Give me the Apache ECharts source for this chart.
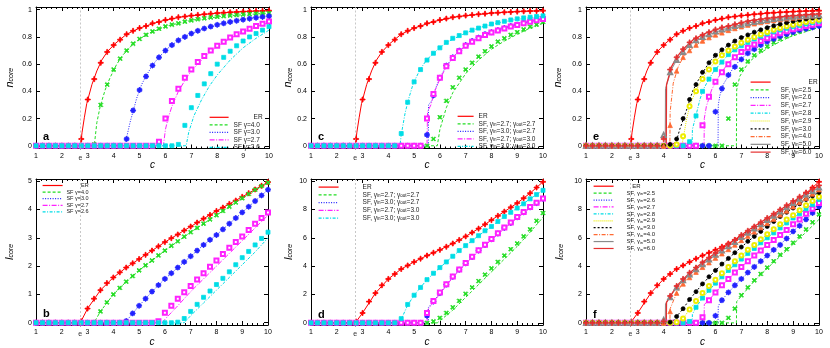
<!DOCTYPE html>
<html>
<head>
<meta charset="utf-8">
<script src="https://cdn.jsdelivr.net/npm/echarts@6/dist/echarts.min.js"></script>
<style>
html, body { margin: 0; padding: 0; background: #fff; }
#chart { width: 830px; height: 348px; }
</style>
</head>
<body>
<div id="chart"></div>
<script>
const FONT = 'Liberation Sans, Arial, sans-serif'
const cE = 2.718

// tick labels
const cTicks = [1, 2, 3, 4, 5, 6, 7, 8, 9, 10]
const nTicks = [0, 0.2, 0.4, 0.6, 0.8, 1]
const lTicksB = [0, 1, 2, 3, 4, 5]
const lTicksD = [0, 2, 4, 6, 8, 10]

// c values of the simulation points
const cSim = [1, 1.25, 1.5, 1.75, 2, 2.25, 2.5, 2.75, 3, 3.25, 3.5, 3.75, 4, 4.25, 4.5, 4.75, 5, 5.25, 5.5, 5.75,
  6, 6.25, 6.5, 6.75, 7, 7.25, 7.5, 7.75, 8, 8.25, 8.5, 8.75, 9, 9.25, 9.5, 9.75, 10]

// ---- ER (n_core: a, c, e) ----
const erLineN = [[1, 0], [2.72, 0], [2.78, 0.1], [2.87, 0.21], [2.96, 0.31], [3.16, 0.45], [3.35, 0.55], [3.54, 0.63], [3.75, 0.69],
  [4.05, 0.75], [4.5, 0.82], [5, 0.865], [5.8, 0.915], [6.7, 0.95], [8, 0.975], [9, 0.987], [10, 0.993]]
const erSimN = [0, 0, 0, 0, 0, 0, 0, 0.05, 0.34, 0.49, 0.61, 0.69, 0.74, 0.78, 0.82, 0.845, 0.865, 0.88, 0.9, 0.91, 0.925, 0.935,
  0.945, 0.95, 0.957, 0.962, 0.967, 0.971, 0.975, 0.978, 0.981, 0.983, 0.986, 0.988, 0.99, 0.991, 0.993]

// ---- panel a ----
const aLine40 = [[1, 0], [3.25, 0], [3.35, 0.17], [3.48, 0.29], [3.67, 0.41], [3.86, 0.5], [4.12, 0.6], [4.37, 0.67], [4.76, 0.75],
  [5.27, 0.82], [6.04, 0.88], [7.07, 0.925], [8.36, 0.955], [10, 0.975]]
const aSim40 = [0, 0, 0, 0, 0, 0, 0, 0, 0, 0.01, 0.30, 0.45, 0.56, 0.64, 0.7, 0.75, 0.785, 0.815, 0.84, 0.86, 0.877, 0.89, 0.9,
  0.912, 0.922, 0.93, 0.937, 0.943, 0.948, 0.953, 0.957, 0.961, 0.965, 0.968, 0.971, 0.973, 0.975]
const aLine30 = [[1, 0], [4.4, 0], [4.5, 0.06], [4.63, 0.17], [4.76, 0.26], [4.89, 0.35], [5.08, 0.45], [5.27, 0.52], [5.53, 0.6],
  [5.79, 0.66], [6.17, 0.73], [6.69, 0.8], [7.33, 0.85], [8.1, 0.895], [9, 0.93], [10, 0.955]]
const aSim30 = [0, 0, 0, 0, 0, 0, 0, 0, 0, 0, 0, 0, 0, 0, 0.05, 0.26, 0.41, 0.51, 0.59, 0.65, 0.70, 0.74, 0.775, 0.80, 0.825,
  0.845, 0.862, 0.876, 0.889, 0.9, 0.91, 0.919, 0.927, 0.934, 0.941, 0.947, 0.953]
const aLine27 = [[1, 0], [5.92, 0], [6.0, 0.12], [6.1, 0.2], [6.25, 0.29], [6.5, 0.4], [6.75, 0.48], [7, 0.55], [7.5, 0.65],
  [8, 0.73], [8.5, 0.79], [9, 0.835], [9.5, 0.875], [10, 0.905]]
const aSim27 = [0, 0, 0, 0, 0, 0, 0, 0, 0, 0, 0, 0, 0, 0, 0, 0, 0, 0, 0, 0.03, 0.2, 0.33, 0.42, 0.5, 0.56, 0.615, 0.66, 0.7,
  0.735, 0.765, 0.795, 0.82, 0.84, 0.86, 0.88, 0.897, 0.913]
const aLine26 = [[1, 0], [6.8, 0], [6.9, 0.1], [7.1, 0.22], [7.4, 0.34], [7.7, 0.44], [8, 0.52], [8.5, 0.63], [9, 0.72],
  [9.5, 0.79], [10, 0.85]]
const aSim26 = [0, 0, 0, 0, 0, 0, 0, 0, 0, 0, 0, 0, 0, 0, 0, 0, 0, 0, 0, 0, 0, 0, 0.01, 0.15, 0.28, 0.37, 0.455, 0.53, 0.6,
  0.65, 0.695, 0.735, 0.77, 0.8, 0.825, 0.85, 0.875]

// ---- panel b ----
const bLineER = [[1, 0], [2.72, 0], [3, 0.5], [3.5, 1.15], [4, 1.6], [4.5, 1.95], [5, 2.25], [6, 2.85], [7, 3.4], [8, 3.95],
  [9, 4.45], [10, 4.97]]
const bSimER = [0, 0, 0, 0, 0, 0, 0, 0.05, 0.5, 0.85, 1.15, 1.4, 1.6, 1.78, 1.95, 2.1, 2.25, 2.4, 2.55, 2.7, 2.85, 2.99,
  3.12, 3.26, 3.4, 3.54, 3.68, 3.81, 3.95, 4.07, 4.2, 4.32, 4.45, 4.58, 4.71, 4.84, 4.97]
const bLine40 = [[1, 0], [3.25, 0], [3.5, 0.4], [4, 1.0], [4.5, 1.45], [5, 1.85], [6, 2.55], [7, 3.2], [8, 3.8], [9, 4.4], [10, 4.95]]
const bSim40 = [0, 0, 0, 0, 0, 0, 0, 0, 0, 0.02, 0.4, 0.72, 1.0, 1.23, 1.45, 1.65, 1.85, 2.03, 2.2, 2.38, 2.55, 2.72, 2.88,
  3.04, 3.2, 3.35, 3.5, 3.65, 3.8, 3.95, 4.1, 4.25, 4.4, 4.55, 4.7, 4.83, 4.95]
const bLine30 = [[1, 0], [4.45, 0], [5, 0.6], [5.5, 1.1], [6, 1.55], [6.5, 1.95], [7, 2.35], [7.5, 2.75], [8, 3.1], [8.5, 3.5],
  [9, 3.9], [9.5, 4.3], [10, 4.7]]
const bSim30 = [0, 0, 0, 0, 0, 0, 0, 0, 0, 0, 0, 0, 0, 0, 0.06, 0.33, 0.6, 0.85, 1.1, 1.33, 1.55, 1.75, 1.95, 2.15, 2.35,
  2.55, 2.75, 2.93, 3.1, 3.3, 3.5, 3.7, 3.9, 4.1, 4.3, 4.5, 4.7]
const bLine27 = [[1, 0], [5.9, 0], [6, 0.12], [6.5, 0.6], [7, 1.1], [7.5, 1.55], [8, 2.0], [8.5, 2.45], [9, 2.9], [9.5, 3.35], [10, 3.8]]
const bSim27 = [0, 0, 0, 0, 0, 0, 0, 0, 0, 0, 0, 0, 0, 0, 0, 0, 0, 0, 0, 0.05, 0.35, 0.6, 0.85, 1.08, 1.3, 1.53, 1.75, 1.98,
  2.2, 2.43, 2.65, 2.85, 3.05, 3.28, 3.5, 3.7, 3.9]
const bLine26 = [[1, 0], [6.75, 0], [7, 0.25], [7.5, 0.7], [8, 1.15], [8.5, 1.6], [9, 2.05], [9.5, 2.5], [10, 3.0]]
const bSim26 = [0, 0, 0, 0, 0, 0, 0, 0, 0, 0, 0, 0, 0, 0, 0, 0, 0, 0, 0, 0, 0, 0, 0.02, 0.15, 0.4, 0.65, 0.9, 1.12, 1.35,
  1.57, 1.8, 2.05, 2.3, 2.52, 2.75, 2.98, 3.2]

// ---- panel c ----
const cLine2727 = [[1, 0], [5.9, 0], [6.0, 0.12], [6.25, 0.28], [6.5, 0.39], [7, 0.53], [7.5, 0.63], [8, 0.71], [8.5, 0.77],
  [9, 0.82], [9.5, 0.865], [10, 0.9]]
const cSim2727 = [0, 0, 0, 0, 0, 0, 0, 0, 0, 0, 0, 0, 0, 0, 0, 0, 0, 0, 0, 0.05, 0.21, 0.33, 0.43, 0.5, 0.56, 0.61, 0.655,
  0.695, 0.73, 0.765, 0.79, 0.815, 0.835, 0.855, 0.875, 0.89, 0.91]
const cLine3027 = [[1, 0], [5.55, 0], [5.56, 0.3], [5.68, 0.33], [5.81, 0.41], [6, 0.5], [6.26, 0.59], [6.64, 0.68], [7.03, 0.74],
  [7.55, 0.8], [8.19, 0.85], [8.84, 0.885], [9.48, 0.915], [10, 0.935]]
const cSim3027 = [0, 0, 0, 0, 0, 0, 0, 0, 0, 0, 0, 0, 0, 0, 0, 0, 0, 0, 0.08, 0.37, 0.5, 0.59, 0.65, 0.7, 0.74, 0.77, 0.795,
  0.82, 0.835, 0.85, 0.865, 0.88, 0.89, 0.905, 0.915, 0.925, 0.935]
const cLine2730 = [[1, 0], [5.5, 0], [5.52, 0.25], [5.65, 0.3], [5.8, 0.4], [6, 0.49], [6.25, 0.58], [6.6, 0.67], [7, 0.735],
  [7.5, 0.79], [8.2, 0.845], [8.8, 0.88], [9.5, 0.912], [10, 0.932]]
const cSim2730 = [0, 0, 0, 0, 0, 0, 0, 0, 0, 0, 0, 0, 0, 0, 0, 0, 0, 0, 0.2, 0.38, 0.5, 0.585, 0.645, 0.695, 0.735, 0.765,
  0.79, 0.815, 0.832, 0.848, 0.862, 0.876, 0.888, 0.9, 0.912, 0.922, 0.932]
const cLine3030 = [[1, 0], [4.45, 0], [4.5, 0.08], [4.65, 0.24], [4.78, 0.34], [4.97, 0.46], [5.23, 0.56], [5.48, 0.63],
  [5.87, 0.7], [6.26, 0.76], [6.9, 0.82], [7.55, 0.87], [8.19, 0.9], [8.84, 0.925], [10, 0.955]]
const cSim3030 = [0, 0, 0, 0, 0, 0, 0, 0, 0, 0, 0, 0, 0, 0, 0.09, 0.32, 0.47, 0.56, 0.63, 0.68, 0.72, 0.76, 0.79, 0.81, 0.83,
  0.85, 0.865, 0.88, 0.895, 0.905, 0.915, 0.925, 0.933, 0.94, 0.945, 0.95, 0.955]

// ---- ER (l_core: d, f) ----
const erLineL = [[1, 0], [2.72, 0], [3, 0.7], [3.5, 2.1], [4, 3.1], [4.5, 3.8], [5, 4.3], [5.5, 4.75], [6, 5.15], [6.5, 5.6],
  [7, 6.1], [7.5, 6.65], [8, 7.25], [8.5, 7.85], [9, 8.45], [9.5, 9.15], [10, 9.95]]
const erSimL = [0, 0, 0, 0, 0, 0, 0, 0.1, 0.7, 1.5, 2.1, 2.65, 3.1, 3.45, 3.8, 4.05, 4.3, 4.53, 4.75, 4.95, 5.15, 5.37, 5.6,
  5.85, 6.1, 6.37, 6.65, 6.95, 7.25, 7.55, 7.85, 8.15, 8.45, 8.8, 9.15, 9.55, 9.95]

// ---- panel d ----
const dLine2727 = [[1, 0], [5.9, 0], [6, 0.15], [6.5, 0.9], [7, 1.8], [7.5, 2.7], [8, 3.6], [8.5, 4.5], [9, 5.4], [9.5, 6.4], [10, 7.45]]
const dSim2727 = [0, 0, 0, 0, 0, 0, 0, 0, 0, 0, 0, 0, 0, 0, 0, 0, 0, 0, 0, 0.1, 0.35, 0.7, 1.1, 1.55, 2.05, 2.5, 2.95, 3.4,
  3.85, 4.3, 4.75, 5.2, 5.6, 6.1, 6.6, 7.2, 7.75]
const dLine3027 = [[1, 0], [5.55, 0], [5.56, 1.1], [5.75, 1.5], [6, 2.1], [6.5, 3.25], [7, 4.2], [7.5, 5.1], [8, 5.9], [8.5, 6.7],
  [9, 7.45], [9.5, 8.15], [10, 8.75]]
const dSim3027 = [0, 0, 0, 0, 0, 0, 0, 0, 0, 0, 0, 0, 0, 0, 0, 0, 0, 0, 0.5, 1.5, 2.1, 2.7, 3.25, 3.75, 4.2, 4.65, 5.1, 5.5,
  5.9, 6.3, 6.7, 7.05, 7.45, 7.8, 8.15, 8.45, 8.75]
const dLine2730 = [[1, 0], [5.5, 0], [5.52, 0.9], [5.75, 1.45], [6, 2.05], [6.5, 3.2], [7, 4.15], [7.5, 5.05], [8, 5.85],
  [8.5, 6.65], [9, 7.4], [9.5, 8.1], [10, 8.7]]
const dSim2730 = [0, 0, 0, 0, 0, 0, 0, 0, 0, 0, 0, 0, 0, 0, 0, 0, 0, 0, 0.7, 1.55, 2.15, 2.72, 3.27, 3.77, 4.22, 4.67, 5.12,
  5.52, 5.92, 6.32, 6.72, 7.08, 7.47, 7.82, 8.17, 8.48, 8.78]
const dLine3030 = [[1, 0], [4.45, 0], [4.5, 0.25], [4.75, 1.25], [5, 1.95], [5.5, 3.05], [6, 3.9], [6.5, 4.7], [7, 5.45],
  [7.5, 6.15], [8, 6.8], [8.5, 7.5], [9, 8.1], [9.5, 8.75], [10, 9.35]]
const dSim3030 = [0, 0, 0, 0, 0, 0, 0, 0, 0, 0, 0, 0, 0, 0, 0.3, 1.3, 1.95, 2.5, 3.05, 3.5, 3.9, 4.3, 4.7, 5.1, 5.45, 5.8,
  6.15, 6.5, 6.8, 7.15, 7.5, 7.8, 8.1, 8.4, 8.75, 9.05, 9.35]

// ---- panel e ----
const eLine25 = [[1, 0], [6.81, 0], [6.82, 0.41], [6.94, 0.51], [7.13, 0.57], [7.32, 0.62], [7.71, 0.68], [8.23, 0.74],
  [8.87, 0.8], [9.51, 0.84], [10, 0.87]]
const eSim25 = [0, 0, 0, 0, 0, 0, 0, 0, 0, 0, 0, 0, 0, 0, 0, 0, 0, 0, 0, 0, 0, 0, 0.2, 0.45, 0.56, 0.62, 0.665, 0.7, 0.73,
  0.76, 0.785, 0.805, 0.825, 0.842, 0.857, 0.875, 0.893]
const eLine26 = [[1, 0], [6.1, 0], [6.11, 0.3], [6.17, 0.37], [6.3, 0.45], [6.49, 0.51], [6.68, 0.57], [6.94, 0.63], [7.32, 0.69],
  [7.85, 0.75], [8.48, 0.8], [9.26, 0.85], [10, 0.88]]
const eSim26 = [0, 0, 0, 0, 0, 0, 0, 0, 0, 0, 0, 0, 0, 0, 0, 0, 0, 0, 0, 0, 0.25, 0.42, 0.52, 0.58, 0.635, 0.68, 0.71, 0.74,
  0.765, 0.785, 0.805, 0.82, 0.835, 0.85, 0.86, 0.87, 0.88]
const eLine27 = [[1, 0], [5.56, 0], [5.57, 0.2], [5.65, 0.29], [5.85, 0.41], [6.04, 0.48], [6.23, 0.54], [6.55, 0.62],
  [6.94, 0.68], [7.45, 0.74], [8.1, 0.8], [8.87, 0.85], [10, 0.9]]
const eSim27 = [0, 0, 0, 0, 0, 0, 0, 0, 0, 0, 0, 0, 0, 0, 0, 0, 0, 0, 0.15, 0.36, 0.47, 0.54, 0.6, 0.65, 0.69, 0.72, 0.745,
  0.77, 0.79, 0.81, 0.827, 0.842, 0.856, 0.868, 0.88, 0.89, 0.9]
const eLine28 = [[1, 0], [5.1, 0], [5.11, 0.12], [5.27, 0.24], [5.4, 0.34], [5.52, 0.41], [5.72, 0.48], [5.91, 0.54],
  [6.17, 0.6], [6.55, 0.68], [7.07, 0.74], [7.71, 0.8], [8.48, 0.85], [9.25, 0.885], [10, 0.915]]
const eSim28 = [0, 0, 0, 0, 0, 0, 0, 0, 0, 0, 0, 0, 0, 0, 0, 0, 0.03, 0.22, 0.4, 0.49, 0.56, 0.615, 0.67, 0.705, 0.735,
  0.76, 0.785, 0.805, 0.822, 0.838, 0.852, 0.864, 0.875, 0.885, 0.895, 0.905, 0.915]
const eLine29 = [[1, 0], [4.7, 0], [4.75, 0.05], [4.88, 0.19], [5, 0.29], [5.2, 0.385], [5.4, 0.46], [5.65, 0.54], [6.04, 0.63],
  [6.42, 0.69], [6.94, 0.75], [7.58, 0.81], [8.35, 0.86], [9.12, 0.9], [10, 0.93]]
const eSim29 = [0, 0, 0, 0, 0, 0, 0, 0, 0, 0, 0, 0, 0, 0, 0.01, 0.07, 0.29, 0.4, 0.49, 0.56, 0.62, 0.665, 0.7, 0.73, 0.757,
  0.78, 0.8, 0.82, 0.837, 0.852, 0.866, 0.878, 0.889, 0.899, 0.909, 0.918, 0.927]
const eLine30 = [[1, 0], [4.3, 0], [4.5, 0.04], [4.62, 0.12], [4.75, 0.19], [4.88, 0.26], [5.01, 0.34], [5.14, 0.41],
  [5.33, 0.48], [5.52, 0.54], [5.78, 0.62], [6.04, 0.67], [6.42, 0.73], [6.81, 0.78], [7.32, 0.82], [7.97, 0.87],
  [8.61, 0.9], [9.25, 0.92], [10, 0.945]]
const eSim30 = [0, 0, 0, 0, 0, 0, 0, 0, 0, 0, 0, 0, 0, 0.01, 0.05, 0.2, 0.34, 0.45, 0.54, 0.61, 0.665, 0.705, 0.74, 0.77,
  0.795, 0.815, 0.835, 0.852, 0.868, 0.882, 0.894, 0.905, 0.915, 0.924, 0.932, 0.939, 0.945]
const eLine40 = [[1, 0], [4.24, 0], [4.25, 0.25], [4.37, 0.46], [4.56, 0.58], [4.75, 0.65], [5, 0.7], [5.4, 0.76], [6.04, 0.82],
  [6.68, 0.86], [7.32, 0.89], [8.6, 0.93], [10, 0.96]]
const eSim40 = [0, 0, 0, 0, 0, 0, 0, 0, 0, 0, 0, 0, 0, 0.15, 0.55, 0.65, 0.7, 0.74, 0.77, 0.795, 0.815, 0.83, 0.848, 0.862,
  0.875, 0.887, 0.897, 0.906, 0.914, 0.921, 0.928, 0.934, 0.94, 0.945, 0.95, 0.955, 0.96]
const eLine50 = [[1, 0], [4.06, 0], [4.07, 0.42], [4.3, 0.56], [4.5, 0.63], [4.75, 0.69], [5.14, 0.76], [5.65, 0.81],
  [6.3, 0.855], [7.32, 0.905], [8.6, 0.94], [10, 0.96]]
const eSim50 = [0, 0, 0, 0, 0, 0, 0, 0, 0, 0, 0, 0, 0.08, 0.54, 0.63, 0.69, 0.74, 0.775, 0.8, 0.82, 0.84, 0.855, 0.868, 0.88,
  0.89, 0.9, 0.91, 0.918, 0.925, 0.932, 0.938, 0.943, 0.948, 0.952, 0.955, 0.958, 0.96]
const eLine60 = [[1, 0], [4.1, 0], [4.11, 0.45], [4.3, 0.58], [4.5, 0.65], [4.75, 0.71], [5.14, 0.78], [5.65, 0.83], [6.3, 0.87],
  [7.32, 0.92], [8.6, 0.95], [10, 0.97]]
const eSim60 = [0, 0, 0, 0, 0, 0, 0, 0, 0, 0, 0, 0, 0.05, 0.56, 0.65, 0.71, 0.76, 0.79, 0.815, 0.835, 0.855, 0.87, 0.88,
  0.893, 0.905, 0.915, 0.922, 0.93, 0.937, 0.943, 0.948, 0.953, 0.957, 0.96, 0.964, 0.967, 0.97]

// ---- panel f ----
const fLine25 = [[1, 0], [6.81, 0], [6.82, 1.5], [7, 1.9], [7.5, 2.95], [8, 3.85], [8.5, 4.7], [9, 5.55], [9.5, 6.4], [10, 7.3]]
const fSim25 = [0, 0, 0, 0, 0, 0, 0, 0, 0, 0, 0, 0, 0, 0, 0, 0, 0, 0, 0, 0, 0, 0, 0.35, 1.0, 1.95, 2.5, 3.0, 3.45, 3.9,
  4.35, 4.8, 5.2, 5.65, 6.1, 6.6, 7.1, 7.65]
const fLine26 = [[1, 0], [6.1, 0], [6.11, 1.2], [6.25, 1.6], [6.5, 2.15], [7, 3.1], [7.5, 3.95], [8, 4.75], [8.5, 5.5],
  [9, 6.45], [9.5, 7.3], [10, 8.2]]
const fSim26 = [0, 0, 0, 0, 0, 0, 0, 0, 0, 0, 0, 0, 0, 0, 0, 0, 0, 0, 0, 0, 0.5, 1.6, 2.15, 2.65, 3.1, 3.55, 3.95, 4.35,
  4.75, 5.15, 5.5, 5.95, 6.45, 6.85, 7.3, 7.75, 8.2]
const fLine27 = [[1, 0], [5.56, 0], [5.57, 1.3], [5.75, 1.6], [6, 2.15], [6.5, 3.1], [7, 3.95], [7.5, 4.75], [8, 5.5],
  [8.5, 6.2], [9, 6.95], [9.5, 7.7], [10, 8.45]]
const fSim27 = [0, 0, 0, 0, 0, 0, 0, 0, 0, 0, 0, 0, 0, 0, 0, 0, 0, 0, 0.4, 1.6, 2.15, 2.65, 3.1, 3.55, 3.95, 4.35, 4.75,
  5.1, 5.5, 5.85, 6.2, 6.55, 6.95, 7.3, 7.7, 8.05, 8.45]
const fLine28 = [[1, 0], [5.1, 0], [5.11, 0.6], [5.25, 1.1], [5.5, 1.75], [6, 2.8], [6.5, 3.7], [7, 4.5], [7.5, 5.25], [8, 6.0],
  [8.5, 6.7], [9, 7.4], [9.5, 8.05], [10, 8.7]]
const fSim28 = [0, 0, 0, 0, 0, 0, 0, 0, 0, 0, 0, 0, 0, 0, 0, 0, 0.1, 1.1, 1.75, 2.3, 2.8, 3.25, 3.7, 4.1, 4.5, 4.9, 5.25,
  5.65, 6.0, 6.35, 6.7, 7.05, 7.4, 7.7, 8.05, 8.35, 8.7]
const fLine29 = [[1, 0], [4.7, 0], [4.75, 0.3], [5, 0.95], [5.5, 2.1], [6, 3.05], [6.5, 3.95], [7, 4.75], [7.5, 5.5], [8, 6.25],
  [8.5, 6.95], [9, 7.6], [9.5, 8.3], [10, 8.9]]
const fSim29 = [0, 0, 0, 0, 0, 0, 0, 0, 0, 0, 0, 0, 0, 0, 0.05, 0.3, 0.95, 1.55, 2.1, 2.6, 3.05, 3.5, 3.95, 4.35, 4.75,
  5.15, 5.5, 5.9, 6.25, 6.6, 6.95, 7.3, 7.6, 7.95, 8.3, 8.6, 8.9]
const fLine30 = [[1, 0], [4.3, 0], [4.5, 0.45], [4.75, 1.0], [5, 1.65], [5.5, 2.75], [6, 3.7], [6.5, 4.55], [7, 5.35],
  [7.5, 6.1], [8, 6.8], [8.5, 7.5], [9, 8.1], [9.5, 8.7], [10, 9.2]]
const fSim30 = [0, 0, 0, 0, 0, 0, 0, 0, 0, 0, 0, 0, 0, 0.05, 0.45, 1.0, 1.65, 2.2, 2.75, 3.25, 3.7, 4.15, 4.55, 4.95, 5.35,
  5.75, 6.1, 6.45, 6.8, 7.15, 7.5, 7.8, 8.1, 8.4, 8.7, 8.95, 9.2]
const fLine40 = [[1, 0], [4.24, 0], [4.25, 1.0], [4.5, 2.1], [4.75, 2.85], [5.4, 3.78], [6.04, 4.6], [7.32, 6.2], [8.61, 7.7],
  [10, 9.4]]
const fSim40 = [0, 0, 0, 0, 0, 0, 0, 0, 0, 0, 0, 0, 0, 0.8, 2.1, 2.75, 3.2, 3.58, 3.92, 4.25, 4.57, 4.88, 5.18, 5.5, 5.82,
  6.12, 6.42, 6.72, 7.02, 7.32, 7.62, 7.9, 8.2, 8.5, 8.8, 9.1, 9.4]
const fLine50 = [[1, 0], [4.06, 0], [4.07, 1.35], [4.5, 2.5], [5.01, 3.42], [5.65, 4.35], [6.3, 5.15], [7.32, 6.45],
  [8.61, 7.95], [10, 9.55]]
const fSim50 = [0, 0, 0, 0, 0, 0, 0, 0, 0, 0, 0, 0, 0.2, 1.8, 2.5, 3.0, 3.42, 3.78, 4.14, 4.47, 4.8, 5.1, 5.4, 5.7, 6.05,
  6.35, 6.65, 6.95, 7.25, 7.55, 7.85, 8.15, 8.45, 8.75, 9.05, 9.3, 9.55]
const fLine60 = [[1, 0], [4.1, 0], [4.11, 1.45], [4.5, 2.6], [5.01, 3.54], [5.65, 4.48], [6.3, 5.3], [7.32, 6.6], [8.61, 8.1],
  [10, 9.7]]
const fSim60 = [0, 0, 0, 0, 0, 0, 0, 0, 0, 0, 0, 0, 0.1, 1.9, 2.6, 3.1, 3.54, 3.9, 4.27, 4.6, 4.93, 5.25, 5.55, 5.85, 6.2,
  6.5, 6.8, 7.1, 7.4, 7.7, 8.0, 8.3, 8.6, 8.9, 9.2, 9.45, 9.7]

// ---------------------------------------------------------------
const PLUS = 'path://M2,0h1v5h-1z M0,2h5v1h-5z'
const STAR = PLUS + ' M0.4,1.1L1.1,0.4L4.6,3.9L3.9,4.6z M3.9,0.4L4.6,1.1L1.1,4.6L0.4,3.9z'

const ST = {
  er: { color: '#ff0000', dash: 'solid', width: 1, symbol: PLUS, size: 5 },
  g: { color: '#22dd22', dash: [3, 2], width: 1, symbol: PLUS, rotate: 45, size: 5 },
  b: { color: '#2222ff', dash: [1, 1.5], width: 1, symbol: STAR, size: 5 },
  m: { color: '#ff22ff', dash: [5, 1.5, 1, 1.5], width: 1, symbol: 'emptyRect', size: 4 },
  cy: { color: '#00dde6', dash: [3, 1.5, 1, 1.5], width: 1, symbol: 'rect', size: 4 },
  y: { color: '#eeee00', dash: [1, 1], width: 1, symbol: 'emptyCircle', size: 4 },
  k: { color: '#000000', dash: [2, 2], width: 1, symbol: 'circle', size: 4 },
  o: { color: '#ff6a33', dash: [4, 1.5, 1, 1.5], width: 1, symbol: 'triangle', size: 4.5 },
  gr: { color: '#8a8a8a', dash: 'solid', width: 1, symbol: 'emptyTriangle', size: 4 },
  r6: { color: '#e53030', dash: 'solid', width: 1.3, symbol: PLUS, size: 5 }
}

const namesAB = ['ER', 'SF γ=4.0', 'SF γ=3.0', 'SF γ=2.7', 'SF γ=2.6']
const namesCD = ['ER', 'SF, γin=2.7; γout=2.7', 'SF, γin=3.0; γout=2.7', 'SF, γin=2.7; γout=3.0', 'SF, γin=3.0; γout=3.0']
const namesEF = ['ER', 'SF, γin=2.5', 'SF, γin=2.6', 'SF, γin=2.7', 'SF, γin=2.8', 'SF, γin=2.9', 'SF, γin=3.0',
  'SF, γin=4.0', 'SF, γin=5.0', 'SF, γin=6.0']

// grid order: a, c, e (top) / b, d, f (bottom)
const panels = [
  { rect: { left: 36, top: 7, width: 233, height: 141.5 }, y: [-0.02, 1.02, nTicks], yName: 'n', nameGap: 21, letter: 'a',
    names: namesAB, style: ['er', 'g', 'b', 'm', 'cy'],
    lines: [erLineN, aLine40, aLine30, aLine27, aLine26], sims: [erSimN, aSim40, aSim30, aSim27, aSim26],
    legend: { left: 209, top: 113.8, w: 19, fs: 6.5, row: 6.5, pad: 0, erBox: 29, erAlign: 'right' } },
  { rect: { left: 311, top: 7, width: 232, height: 141.5 }, y: [-0.02, 1.02, nTicks], yName: 'n', nameGap: 17, letter: 'c',
    names: namesCD, style: ['er', 'g', 'b', 'm', 'cy'],
    lines: [erLineN, cLine2727, cLine3027, cLine2730, cLine3030], sims: [erSimN, cSim2727, cSim3027, cSim2730, cSim3030],
    legend: { left: 457, top: 112.8, w: 16, fs: 6.5, row: 6.5, pad: 0 } },
  { rect: { left: 586, top: 7, width: 233, height: 141.5 }, y: [-0.02, 1.02, nTicks], yName: 'n', nameGap: 23, letter: 'e',
    names: namesEF, style: ['er', 'g', 'b', 'm', 'cy', 'y', 'k', 'o', 'gr', 'r6'],
    lines: [erLineN, eLine25, eLine26, eLine27, eLine28, eLine29, eLine30, eLine40, eLine50, eLine60],
    sims: [erSimN, eSim25, eSim26, eSim27, eSim28, eSim29, eSim30, eSim40, eSim50, eSim60],
    legend: { left: 750, top: 78.6, w: 20, fs: 6.5, row: 6.78, pad: 5, erBox: 37, erAlign: 'right' } },
  { rect: { left: 36, top: 179, width: 232, height: 146 }, y: [-0.08, 5.08, lTicksB], yName: 'l', nameGap: 21, letter: 'b',
    names: namesAB, style: ['er', 'g', 'b', 'm', 'cy'],
    lines: [bLineER, bLine40, bLine30, bLine27, bLine26], sims: [bSimER, bSim40, bSim30, bSim27, bSim26],
    legend: { left: 42, top: 182.5, w: 20, fs: 5.5, row: 6.6, pad: 0, box: 21 } },
  { rect: { left: 311, top: 179, width: 232, height: 147 }, y: [-0.15, 10.15, lTicksD], yName: 'l', nameGap: 17, letter: 'd',
    names: namesCD, style: ['er', 'g', 'b', 'm', 'cy'],
    lines: [erLineL, dLine2727, dLine3027, dLine2730, dLine3030], sims: [erSimL, dSim2727, dSim3027, dSim2730, dSim3030],
    legend: { left: 318, top: 183.6, w: 20, fs: 6.5, row: 6.75, pad: 19 } },
  { rect: { left: 586, top: 179, width: 233, height: 147 }, y: [-0.15, 10.15, lTicksD], yName: 'l', nameGap: 21, letter: 'f',
    names: namesEF, style: ['er', 'g', 'b', 'm', 'cy', 'y', 'k', 'o', 'gr', 'r6'],
    lines: [erLineL, fLine25, fLine26, fLine27, fLine28, fLine29, fLine30, fLine40, fLine50, fLine60],
    sims: [erSimL, fSim25, fSim26, fSim27, fSim28, fSim29, fSim30, fSim40, fSim50, fSim60],
    legend: { left: 593, top: 183.2, w: 20, fs: 6, row: 6.92, pad: 8, erBox: 14, erAlign: 'right' } }
]

const axisLine = { onZero: false, lineStyle: { color: '#000', width: 1 } }
const grid = [], xAxis = [], yAxis = [], series = [], legend = [], title = []

panels.forEach((p, i) => {
  grid.push(Object.assign({ containLabel: false }, p.rect))
  const [ymin, ymax, yt] = p.y

  xAxis.push({
    gridIndex: i, type: 'value', min: 1, max: 10, interval: 1, position: 'bottom',
    axisLine, splitLine: { show: false },
    axisTick: { inside: true, length: 4, lineStyle: { color: '#000' } },
    minorTick: { show: true, splitNumber: 5, length: 2, lineStyle: { color: '#000' } },
    axisLabel: { fontSize: 7, color: '#000', margin: 4, fontFamily: FONT },
    name: 'c', nameLocation: 'middle', nameGap: 12,
    nameTextStyle: { fontStyle: 'italic', fontSize: 10, color: '#000', fontFamily: FONT }
  })
  xAxis.push({
    gridIndex: i, type: 'value', min: 1, max: 10, interval: 1, position: 'top',
    axisLine, splitLine: { show: false },
    axisTick: { inside: true, length: 4, lineStyle: { color: '#000' } },
    minorTick: { show: true, splitNumber: 5, length: 2, lineStyle: { color: '#000' } },
    axisLabel: { show: false }
  })
  // the "e" mark under the axis
  xAxis.push({
    gridIndex: i, type: 'value', min: 1, max: 10, position: 'bottom', offset: 0,
    axisLine: { show: false }, splitLine: { show: false },
    axisTick: { show: true, inside: false, length: 4, customValues: [cE], lineStyle: { color: '#777', width: 0.8 } },
    axisLabel: { customValues: [cE], formatter: () => 'e', fontSize: 7, margin: 6, color: '#333', fontFamily: FONT }
  })

  const yName = '{i|' + p.yName + '}{s|core}'
  yAxis.push({
    gridIndex: i, type: 'value', min: ymin, max: ymax, position: 'left',
    axisLine, splitLine: { show: false },
    axisTick: { inside: true, length: 4, customValues: yt, lineStyle: { color: '#000' } },
    axisLabel: { customValues: yt, fontSize: 7, color: '#000', margin: 4, fontFamily: FONT },
    name: yName, nameLocation: 'middle', nameGap: p.nameGap, nameRotate: 90,
    nameTextStyle: {
      rich: {
        i: { fontStyle: 'italic', fontSize: 11, fontFamily: FONT, color: '#000', verticalAlign: 'bottom' },
        s: { fontStyle: 'italic', fontSize: 7, fontFamily: FONT, color: '#000', verticalAlign: 'bottom' }
      }
    }
  })
  yAxis.push({
    gridIndex: i, type: 'value', min: ymin, max: ymax, position: 'right',
    axisLine, splitLine: { show: false },
    axisTick: { inside: true, length: 4, customValues: yt, lineStyle: { color: '#000' } },
    axisLabel: { show: false }
  })

  p.names.forEach((name, k) => {
    const st = ST[p.style[k]]
    const line = {
      type: 'line', name, xAxisIndex: i * 3, yAxisIndex: i * 2, data: p.lines[k],
      symbol: 'none', lineStyle: { color: st.color, width: st.width, type: st.dash },
      itemStyle: { color: st.color }, z: 2, silent: true, animation: false
    }
    if (k === 0) {
      line.markLine = {
        silent: true, symbol: 'none', label: { show: false }, animation: false,
        lineStyle: { color: '#b0b0b0', type: [2, 2], width: 0.7 },
        data: [{ xAxis: cE }]
      }
    }
    series.push(line)
    series.push({
      type: 'scatter', name: name + ' (sim)', xAxisIndex: i * 3, yAxisIndex: i * 2,
      data: cSim.map((c, j) => [c, p.sims[k][j]]),
      symbol: st.symbol, symbolSize: st.size, symbolRotate: st.rotate || 0,
      itemStyle: { color: st.color, borderColor: st.color, borderWidth: 0.8, opacity: 1 },
      z: 3, silent: true, animation: false
    })
  })

  const L = p.legend
  legend.push({
    orient: 'vertical', left: L.left, top: L.top, padding: 0,
    itemWidth: L.w, itemHeight: 6, itemGap: L.row - 6, selectedMode: false,
    itemStyle: { opacity: 0 },
    lineStyle: { width: 1.2 },
    data: p.names,
    formatter: name => {
      const pre = L.pad ? '{p| }' : ''
      if (L.box) return '{t|' + name + '}'
      if (name === 'ER' && L.erBox) return pre + '{r|ER}'
      return pre + name.replace(/γ(in|out)/g, 'γ{s|$1}')
    },
    textStyle: {
      fontSize: L.fs, lineHeight: 6, color: '#222', fontFamily: FONT,
      rich: {
        p: { width: L.pad || 0, fontSize: L.fs, lineHeight: 6 },
        r: { width: L.erBox || 0, align: L.erAlign || 'left', fontSize: L.fs, lineHeight: 6, color: '#222', fontFamily: FONT },
        t: { width: L.box || 0, align: 'right', fontSize: L.fs, lineHeight: 6, color: '#222', fontFamily: FONT },
        s: { fontSize: L.fs * 0.7, lineHeight: 6, verticalAlign: 'bottom', color: '#222', fontFamily: FONT }
      }
    }
  })

  title.push({
    text: p.letter, padding: 0,
    left: p.rect.left + 7, top: p.rect.top + p.rect.height - 17,
    textStyle: { fontSize: 11, fontWeight: 'bold', color: '#000', fontFamily: FONT }
  })
})

const chart = echarts.init(document.getElementById('chart'), null, { renderer: 'canvas' })
chart.setOption({
  backgroundColor: '#fff',
  animation: false,
  title, grid, xAxis, yAxis, legend, series
})
</script>
</body>
</html>
